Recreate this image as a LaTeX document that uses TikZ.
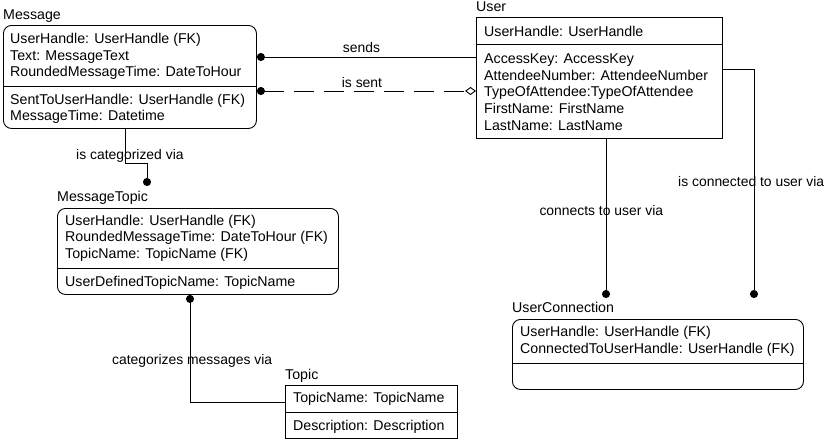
\documentclass[tikz,border=0pt]{standalone}
\usepackage{fontspec}
\setmainfont{Liberation Sans}
\usetikzlibrary{arrows.meta,calc}
\begin{document}
\begin{tikzpicture}[x=1pt,y=-1pt,
  box/.style={draw,line width=0.9pt,inner sep=0pt,anchor=north west},
  rbox/.style={box,rounded corners=8pt},
  txt/.style={anchor=base west,inner sep=0pt,font=\fontsize{14.2}{16}\selectfont},
  lbl/.style={anchor=base west,inner sep=0pt,font=\fontsize{13.9}{16}\selectfont},
  conn/.style={line width=0.9pt},
  divider/.style={line width=0.9pt},
  dashline/.style={conn,dash pattern=on 20pt off 10pt},
  dottip/.tip={Circle[length=8pt]},
  diatip/.tip={Diamond[open,length=11pt,width=8pt]}
]
\useasboundingbox (0,0) rectangle (827,440);

% ---------- boxes ----------
\node[rbox,minimum width=253pt,minimum height=103pt] (msg) at (3,25) {};
\draw[divider] (msg.west |- 0,86) -- (msg.east |- 0,86);

\node[box,minimum width=246pt,minimum height=121pt] (user) at (476,17) {};
\draw[divider] (user.west |- 0,44) -- (user.east |- 0,44);

\node[rbox,minimum width=281pt,minimum height=86pt] (mtopic) at (57,208) {};
\draw[divider] (mtopic.west |- 0,268) -- (mtopic.east |- 0,268);

\node[box,minimum width=172pt,minimum height=53pt] (topic) at (285,385) {};
\draw[divider] (topic.west |- 0,412) -- (topic.east |- 0,412);

\node[rbox,minimum width=291pt,minimum height=70pt] (uconn) at (512,319) {};
\draw[divider] (uconn.west |- 0,363) -- (uconn.east |- 0,363);

% ---------- titles ----------
\node[txt] (tmsg) at (3,19) {Message};
\node[txt] (tuser) at (476,11) {User};
\node[txt] (tmtopic) at (57,201.7) {MessageTopic};
\node[txt] (ttopic) at (285,379) {Topic};
\node[txt] (tuconn) at (512,312.7) {UserConnection};

% ---------- attributes ----------
\node[txt] (m1) at (10,43.5) {UserHandle: UserHandle (FK)};
\node[txt] (m2) at (10,60) {Text: MessageText};
\node[txt] (m3) at (10,76.5) {RoundedMessageTime: DateToHour};
\node[txt] (m4) at (10,104) {SentToUserHandle: UserHandle (FK)};
\node[txt] (m5) at (10,120.5) {MessageTime: Datetime};

\node[txt] (u1) at (484,36) {UserHandle: UserHandle};
\node[txt] (u2) at (484,63.3) {AccessKey: AccessKey};
\node[txt] (u3) at (484,80) {AttendeeNumber: AttendeeNumber};
\node[txt] (u4) at (484,96.7) {TypeOfAttendee:TypeOfAttendee};
\node[txt] (u5) at (484,113.3) {FirstName: FirstName};
\node[txt] (u6) at (484,130) {LastName: LastName};

\node[txt] (mt1) at (65,225) {UserHandle: UserHandle (FK)};
\node[txt] (mt2) at (65,241.7) {RoundedMessageTime: DateToHour (FK)};
\node[txt] (mt3) at (65,258.3) {TopicName: TopicName (FK)};
\node[txt] (mt4) at (65,286.7) {UserDefinedTopicName: TopicName};

\node[txt] (t1) at (293,402.7) {TopicName: TopicName};
\node[txt] (t2) at (293,430) {Description: Description};

\node[txt] (uc1) at (520,336.7) {UserHandle: UserHandle (FK)};
\node[txt] (uc2) at (520,353.7) {ConnectedToUserHandle: UserHandle (FK)};

% ---------- connectors ----------
\draw[conn,dottip-] (msg.east |- 0,57) -- (user.west |- 0,57);
\node[lbl] (lsends) at (342.7,52.5) {sends};

\draw[dashline,dottip-diatip] (msg.east |- 0,91) -- (user.west |- 0,91);
\node[lbl] (lsent) at (341.7,87.7) {is sent};

\coordinate (ce) at (147,186);
\draw[conn,-dottip] (msg.south -| 125,0) -- (125,163) -- (147,163) -- (ce);
\node[lbl] (lcat) at (76,159.3) {is categorized via};

\draw[conn,dottip-] (mtopic.south -| 190,0) |- (topic.west |- 0,402);
\node[lbl] (lcatm) at (112,364) {categorizes messages via};

\coordinate (ue1) at (754,298);
\draw[conn,-dottip] (user.east |- 0,69) -| (ue1);
\node[lbl] (lisconn) at (678,186.7) {is connected to user via};

\coordinate (ue2) at (606,298);
\draw[conn,-dottip] (user.south -| ue2) -- (ue2);
\node[lbl] (lconn) at (539.3,215) {connects to user via};
\end{tikzpicture}
\end{document}
